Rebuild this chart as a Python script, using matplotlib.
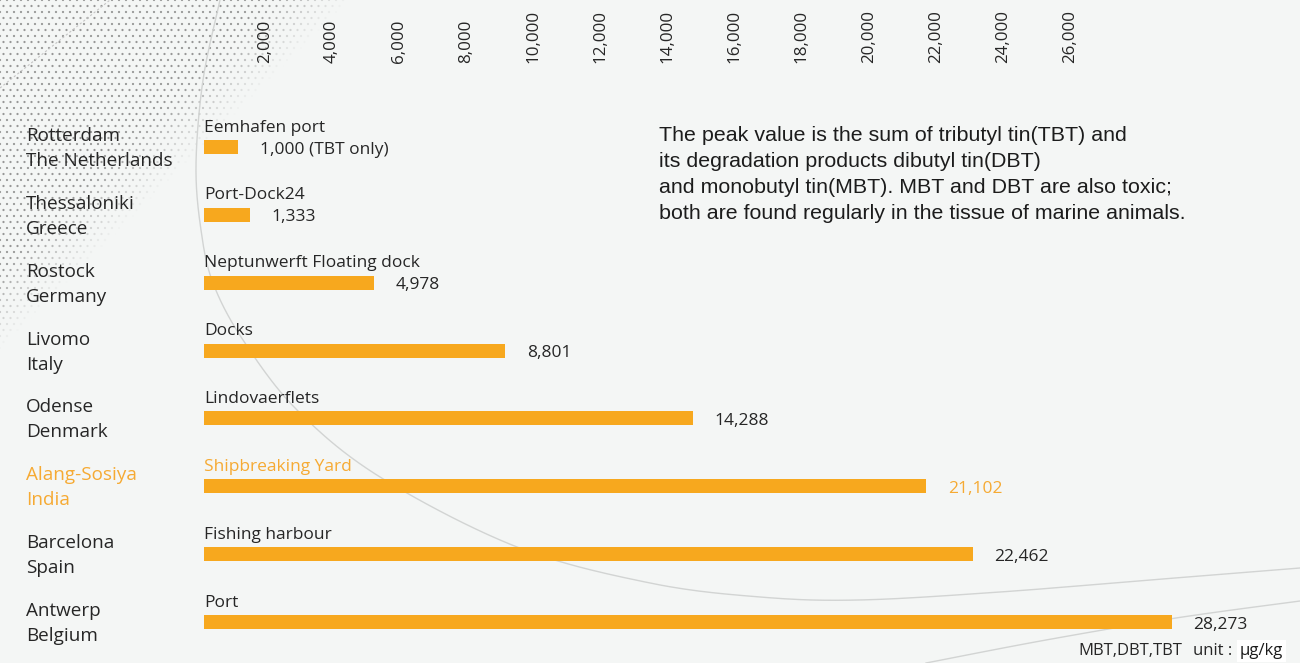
import numpy as np
import matplotlib.pyplot as plt

cities = ["Rotterdam", "Thessaloniki", "Rostock", "Livomo", "Odense",
          "Alang-Sosiya", "Barcelona", "Antwerp"]
countries = ["The Netherlands", "Greece", "Germany", "Italy", "Denmark",
             "India", "Spain", "Belgium"]
sites = ["Eemhafen port", "Port-Dock24", "Neptunwerft Floating dock", "Docks",
         "Lindovaerflets", "Shipbreaking Yard", "Fishing harbour", "Port"]
values = [1000, 1333, 4978, 8801, 14288, 21102, 22462, 28273]
value_labels = ["1,000 (TBT only)", "1,333", "4,978", "8,801", "14,288",
                "21,102", "22,462", "28,273"]
tick_values = [2000, 4000, 6000, 8000, 10000, 12000, 14000, 16000,
               18000, 20000, 22000, 24000, 26000]
highlight = "Alang-Sosiya"

note_lines = ["The peak value is the sum of tributyl tin(TBT) and",
              "its degradation products dibutyl tin(DBT)",
              "and monobutyl tin(MBT). MBT and DBT are also toxic;",
              "both are found regularly in the tissue of marine animals."]

BG = "#f4f6f5"
ORANGE = "#f7a81e"
HIGHLIGHT = "#f6aa33"
TEXT = "#262626"

plt.rcParams['font.family'] = ['Open Sans', 'DejaVu Sans']

W, H = 1300, 663
PX = 72 / 100  # points per pixel


def smooth(pts, n=24):
    # catmull-rom through a few guide points, for the decorative curves
    p = np.array(pts, float)
    p = np.vstack([p[0], p, p[-1]])
    out = []
    t = np.linspace(0, 1, n, endpoint=False)[:, None]
    for i in range(1, len(p) - 2):
        p0, p1, p2, p3 = p[i - 1], p[i], p[i + 1], p[i + 2]
        out.append(0.5 * (2 * p1 + (-p0 + p2) * t
                          + (2 * p0 - 5 * p1 + 4 * p2 - p3) * t ** 2
                          + (-p0 + 3 * p1 - 3 * p2 + p3) * t ** 3))
    out.append(p[-2][None])
    return np.vstack(out)


fig = plt.figure(figsize=(13, 6.63), dpi=100)
fig.patch.set_facecolor(BG)

# background layer in pixel coords: stipple + thin curves
bg = fig.add_axes([0, 0, 1, 1])
bg.set_xlim(0, W)
bg.set_ylim(H, 0)
bg.axis('off')

gx, gy = np.meshgrid(np.arange(0, 380, 7.0), np.arange(0, 380, 6.0))
gx[1::2] += 3.5
gx, gy = gx.ravel(), gy.ravel()
fade = np.clip((350 - (gx + gy)) / 80, 0, 1)
keep = fade > 0
cols = np.zeros((keep.sum(), 4))
cols[:, :3] = 0.5
cols[:, 3] = 0.8 * fade[keep]
bg.scatter(gx[keep], gy[keep], s=2.6, c=cols, linewidths=0)

curve_a = smooth([(220, 0), (203, 80), (196, 165), (201, 230), (213, 283),
                  (243, 340), (297, 410), (380, 477), (517, 547), (650, 583),
                  (760, 597), (859, 600), (1000, 592), (1150, 580), (1300, 568)])
curve_b = smooth([(926, 663), (1046, 640), (1176, 618), (1300, 601)])
bg.plot(curve_a[:, 0], curve_a[:, 1], color="#d2d4d3", lw=1)
bg.plot(curve_b[:, 0], curve_b[:, 1], color="#d2d4d3", lw=1)
bg.plot([0, 110], [88, 0], color="#c4c4c4", lw=0.8, ls=(0, (2, 2)))

# main bar axes: x=0 at 204px, 28,273 ends at ~1172px
x0_px, top_px = 204, 66
px_per_unit = (1172 - 204) / 28273
row_px = 67.86
first_row_px = 147
ax = fig.add_axes([x0_px / W, 0, (W - x0_px) / W, (H - top_px) / H])
ax.set_facecolor('none')
ax.set_xlim(0, (W - x0_px) / px_per_unit)
y_top = -(first_row_px - top_px) / row_px
ax.set_ylim(y_top + (H - top_px) / row_px, y_top)
for s in ax.spines.values():
    s.set_visible(False)
ax.set_xticks([])
ax.set_yticks([])

ypos = np.arange(len(values))
ax.barh(ypos, values, height=14 / row_px, color=ORANGE, zorder=3)

for i, (city, country, site, v, lab) in enumerate(
        zip(cities, countries, sites, values, value_labels)):
    c = HIGHLIGHT if city == highlight else TEXT
    ax.annotate(city, xy=(26, i), xycoords=('figure pixels', 'data'),
                xytext=(0, 6 * PX), textcoords='offset points',
                va='baseline', ha='left', fontsize=13.6, color=c)
    ax.annotate(country, xy=(26, i), xycoords=('figure pixels', 'data'),
                xytext=(0, -19 * PX), textcoords='offset points',
                va='baseline', ha='left', fontsize=13.6, color=c)
    ax.annotate(site, xy=(0, i), xytext=(0, 15.5 * PX),
                textcoords='offset points', va='baseline', ha='left',
                fontsize=12.5, color=c)
    ax.annotate(lab, xy=(v, i), xytext=(21.5 * PX, -6.5 * PX),
                textcoords='offset points', va='baseline', ha='left',
                fontsize=12.5, color=c)

# value scale along the top (drawn slightly compressed, as in the original)
k = (25294 - 1782) / 24000


def to_scale(x):
    return 2000 + (np.asarray(x) - 1782) / k


def from_scale(v):
    return 1782 + (np.asarray(v) - 2000) * k


sec = ax.secondary_xaxis('top', functions=(to_scale, from_scale))
sec.set_xticks(tick_values)
sec.set_xticklabels([f"{t:,}" for t in tick_values], rotation=90,
                    fontsize=12.2, color=TEXT)
sec.tick_params(length=0, pad=2)
sec.spines['top'].set_visible(False)

# explanatory note
for j, line in enumerate(note_lines):
    bg.text(659, 141 + 26 * j, line, family=['Liberation Sans', 'DejaVu Sans'],
            fontsize=15.4, color="#1c1c1c", va='baseline', ha='left')

bg.text(1078, 655, "MBT,DBT,TBT", fontsize=12, color=TEXT,
        va='baseline', ha='left')
bg.text(1193, 655, "unit :", fontsize=12, color=TEXT,
        va='baseline', ha='left')
bg.text(1240, 655, "μg/kg", fontsize=12, color="#1a1a1a", va='baseline',
        ha='left', bbox=dict(facecolor='white', edgecolor='none', pad=2))

fig.savefig("out.png", dpi=100, facecolor=BG)
